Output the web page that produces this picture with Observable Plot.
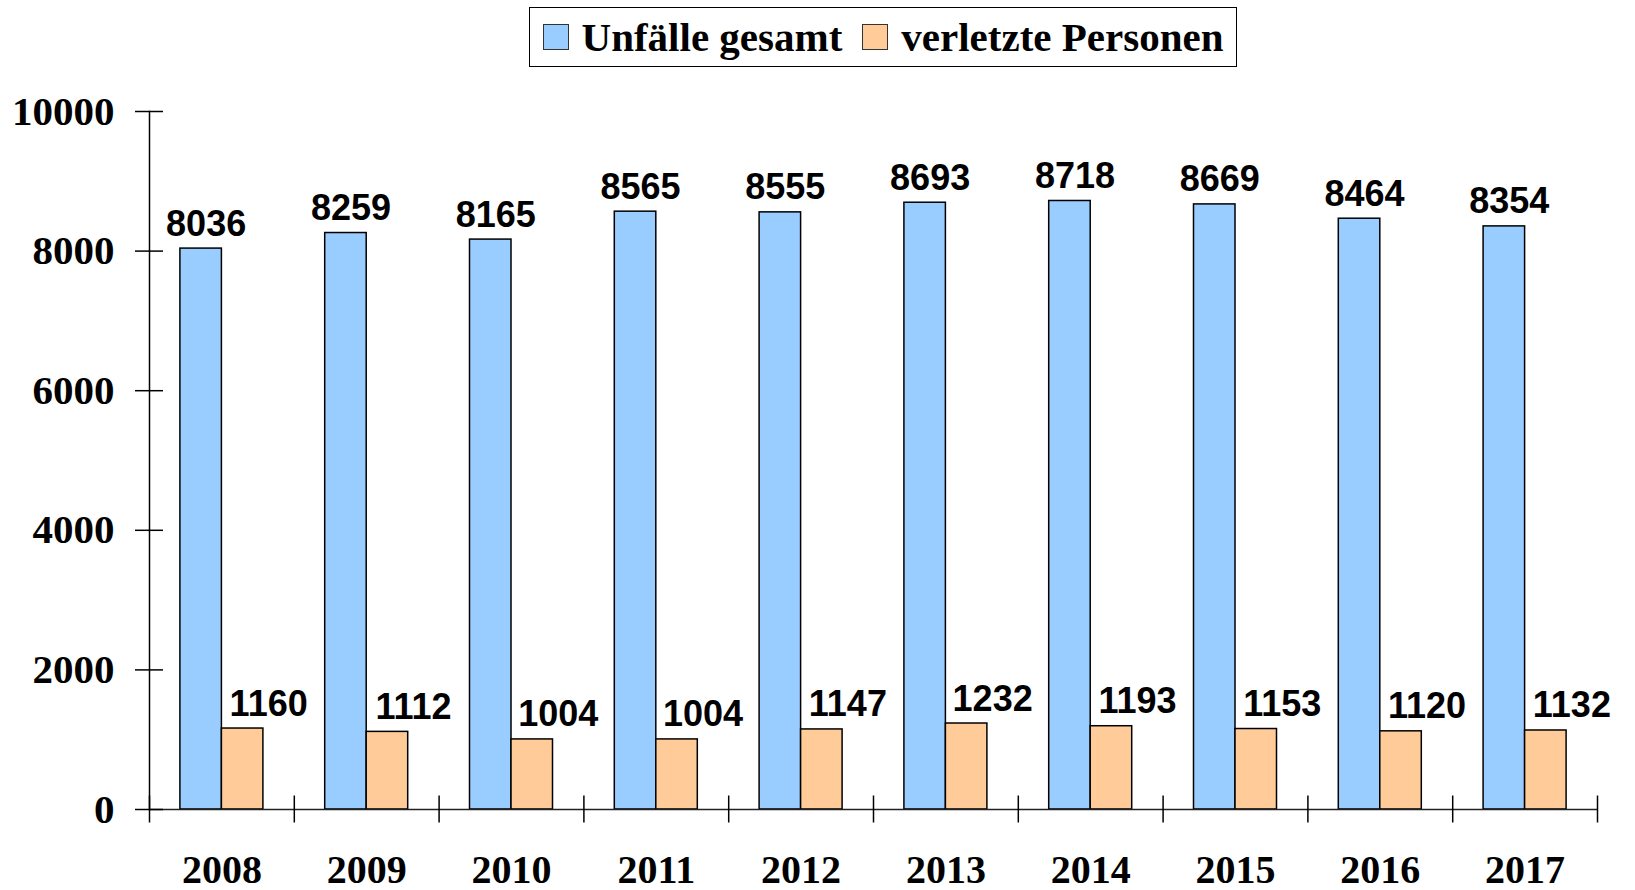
<!DOCTYPE html>
<html>
<head>
<meta charset="utf-8">
<script src="https://cdn.jsdelivr.net/npm/d3@7"></script>
<script src="https://cdn.jsdelivr.net/npm/@observablehq/plot@0.6"></script>
<style>
  html, body { margin: 0; padding: 0; background: #fff; }
  #wrap { position: relative; width: 1635px; height: 890px; }
  #legend {
    position: absolute; left: 529px; top: 7px; width: 706px; height: 58px;
    border: 1.5px solid #000; box-sizing: content-box;
    display: flex; align-items: center; justify-content: center;
    font-family: "Liberation Serif", "Times New Roman", serif; font-weight: bold; font-size: 41px;
  }
  .sw { width: 24px; height: 24px; border: 1.5px solid #333; display: inline-block; margin-right: 13px; }
  .item { display: flex; align-items: center; }
  .item + .item { margin-left: 20px; }
  #chart { position: absolute; left: 0; top: 0; }
</style>
</head>
<body>
<div id="wrap">
  <div id="chart"></div>
  <div id="legend"></div>
</div>
<script>
const years = ["2008","2009","2010","2011","2012","2013","2014","2015","2016","2017"];
const unfaelle = [8036, 8259, 8165, 8565, 8555, 8693, 8718, 8669, 8464, 8354];
const verletzte = [1160, 1112, 1004, 1004, 1147, 1232, 1193, 1153, 1120, 1132];
const yTicks = [0, 2000, 4000, 6000, 8000, 10000];
const seriesNames = ["Unfälle gesamt", "verletzte Personen"];
const seriesColors = ["#99CCFF", "#FFCC99"];

const data = years.map((y, i) => ({year: y, unfaelle: unfaelle[i], verletzte: verletzte[i]}));

const W = 1635, H = 890, mL = 149, mR = 38;
const half = (W - mL - mR) / years.length / 2;
const barW = 41.5;
const serif = "'Liberation Serif', 'Times New Roman', serif";
const sans = "'Liberation Sans', Arial, sans-serif";

const chart = Plot.plot({
  width: W, height: H,
  marginLeft: mL, marginRight: mR, marginTop: 111, marginBottom: 81,
  style: {background: "white", overflow: "visible"},
  x: {domain: years, padding: 0, round: false, label: null},
  y: {domain: [0, 10000], label: null},
  marks: [
    Plot.barY(data, {x: "year", y: "unfaelle", fill: seriesColors[0], stroke: "#000", strokeWidth: 1.5,
      insetLeft: half - barW, insetRight: half}),
    Plot.barY(data, {x: "year", y: "verletzte", fill: seriesColors[1], stroke: "#000", strokeWidth: 1.5,
      insetLeft: half, insetRight: half - barW}),
    Plot.ruleY([0], {stroke: "#222", strokeWidth: 1.5}),
    Plot.frame({anchor: "left", stroke: "#000", strokeWidth: 1.5}),
    Plot.axisY({ticks: yTicks, text: null, tickSize: 28, dx: 14, stroke: "#000", strokeWidth: 1.5, label: null}),
    Plot.axisY({ticks: yTicks, tickSize: 0, tickPadding: 35, fontSize: 41, fontWeight: "bold",
      fontFamily: serif, fill: "#000", label: null, tickFormat: d => String(d)}),
    Plot.axisX({ticks: years, text: null, tickSize: 27, dx: -half, dy: -13.5, stroke: "#000", strokeWidth: 1.5, label: null}),
    Plot.axisX({ticks: [years[years.length - 1]], text: null, tickSize: 27, dx: half, dy: -13.5, stroke: "#000", strokeWidth: 1.5, label: null}),
    Plot.axisX({ticks: years, tickSize: 0, tickPadding: 45, fontSize: 40, fontWeight: "bold",
      fontFamily: serif, fill: "#000", label: null}),
    Plot.text(data, {x: "year", y: "unfaelle", text: d => String(d.unfaelle), dx: -barW / 2 + 5, dy: -13,
      lineAnchor: "bottom", fontSize: 36, fontWeight: "bold", fontFamily: sans, fill: "#000"}),
    Plot.text(data, {x: "year", y: "verletzte", text: d => String(d.verletzte), dx: barW / 2 + 26, dy: -13,
      lineAnchor: "bottom", fontSize: 36, fontWeight: "bold", fontFamily: sans, fill: "#000"})
  ]
});
document.getElementById("chart").appendChild(chart);

const legend = document.getElementById("legend");
seriesNames.forEach((name, i) => {
  const item = document.createElement("div");
  item.className = "item";
  const sw = document.createElement("span");
  sw.className = "sw";
  sw.style.background = seriesColors[i];
  const t = document.createElement("span");
  t.textContent = name;
  item.appendChild(sw);
  item.appendChild(t);
  legend.appendChild(item);
});
</script>
</body>
</html>
